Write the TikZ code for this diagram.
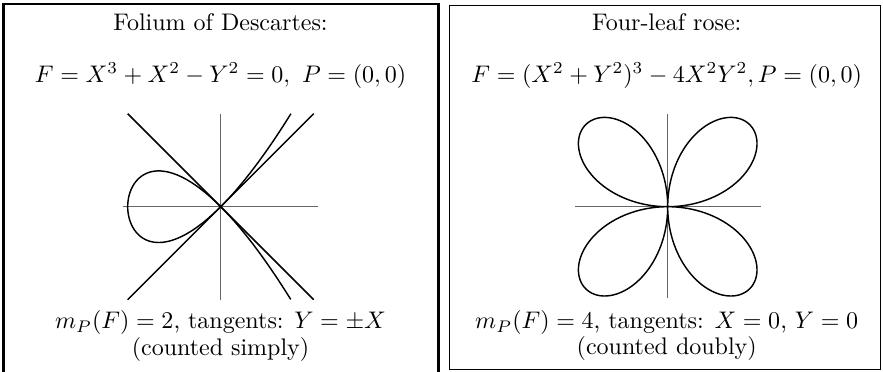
\documentclass[tikz,border=0pt]{standalone}
\begin{document}
\begin{tikzpicture}[x=0.4167pt,y=-0.4167pt,
    axis/.style={black!60,line width=0.6pt},
    curve/.style={black,line width=0.6pt},
    label/.style={anchor=base,inner sep=0pt}]
  \useasboundingbox (0,0) rectangle (883,371);
  % the two frames
  \draw[line width=1pt] (3.5,400) -- (3.5,4.2) -- (438.3,4.2) -- (438.3,400);
  \draw[line width=0.6pt] (449.7,5.5) rectangle (880.5,369.7);
  % left: folium
  \node[label] (titleL) at (220.5,30.5) {Folium of Descartes:};
  \node[label] (eqL) at (220.5,82) {$F=X^3+X^2-Y^2=0,\ P=(0,0)$};
  \node[label] (multL) at (220.5,328.5) {$m_P(F)=2$, tangents: $Y=\pm X$};
  \node[label] (noteL) at (220.5,355.5) {(counted simply)};
  \begin{scope}[shift={(220.7,206.7)},scale=93]
    \draw[axis] (-1.05,0) -- (1.05,0);
    \draw[axis] (0,-1) -- (0,1);
    \draw[curve] (-1,-1) -- (1,1);
    \draw[curve] (-1,1) -- (1,-1);
    \draw[curve] plot[domain=-1.3247:1.3247,samples=150,smooth] ({\x*\x-1},{\x*\x*\x-\x});
  \end{scope}
  % right: rose
  \node[label] (titleR) at (666.7,30.5) {Four-leaf rose:};
  \node[label] (eqR) at (666.7,82) {$F=(X^2+Y^2)^3-4X^2Y^2, P=(0,0)$};
  \node[label] (multR) at (666.7,328.5) {$m_P(F)=4$, tangents: $X=0$, $Y=0$};
  \node[label] (noteR) at (666.7,354) {(counted doubly)};
  \begin{scope}[shift={(667.7,206.7)},scale=116]
    \draw[axis] (-0.8,0) -- (0.8,0);
    \draw[axis] (0,-0.8) -- (0,0.79);
    \draw[curve] plot[domain=0:360,samples=361,smooth] ({sin(2*\x)*cos(\x)},{sin(2*\x)*sin(\x)});
  \end{scope}
\end{tikzpicture}
\end{document}
